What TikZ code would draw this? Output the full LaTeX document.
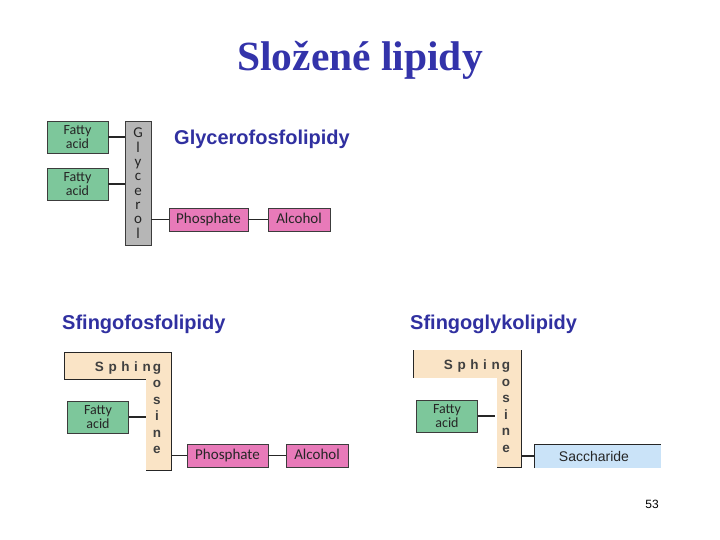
\documentclass[tikz,border=0pt]{standalone}
\usepackage{fontspec}
\setmainfont{Liberation Serif}
\newfontfamily\arialf{Liberation Sans}
\newfontfamily\boxf{Carlito}
\definecolor{titleblue}{RGB}{51,51,170}
\definecolor{lblblue}{RGB}{48,48,160}
\definecolor{fagreen}{RGB}{125,199,155}
\definecolor{phpink}{RGB}{232,122,185}
\definecolor{glgray}{RGB}{182,182,182}
\definecolor{sphbeige}{RGB}{250,228,198}
\definecolor{sacblue}{RGB}{202,227,248}
\definecolor{edge}{RGB}{60,60,60}
\tikzset{
  boxbase/.style={draw=edge, line width=0.8pt, inner sep=0pt, font=\boxf\fontsize{15}{13}\selectfont, text=black!85},
  fabox/.style={boxbase, fill=fagreen, minimum width=61pt, minimum height=32pt, align=center, font=\boxf\fontsize{14}{14.5}\selectfont},
  pinkbox/.style={boxbase, fill=phpink, minimum height=23pt, text height=10pt, text depth=3pt},
  glbox/.style={boxbase, fill=glgray, minimum width=26pt, minimum height=124pt},
  conn/.style={draw=black!85, line width=1.1pt},
  bord/.style={draw=black!85, line width=1pt},
  lbl/.style={font=\arialf\bfseries\fontsize{20}{22}\selectfont, text=lblblue, anchor=base west, inner sep=0pt},
  letter/.style={font=\boxf\fontsize{15}{15}\selectfont, text=black!85, inner sep=0pt, anchor=base},
  sphletter/.style={font=\arialf\bfseries\fontsize{13.5}{13.5}\selectfont, text=black!75, inner sep=0pt},
}
\newcommand{\spgap}{\hspace{4.6pt}}
\begin{document}
\begin{tikzpicture}[x=1pt,y=-1pt]
\useasboundingbox (0,0) rectangle (720,540);
% title
\node[font=\bfseries\fontsize{41.5}{44}\selectfont, text=titleblue] (title) at (360,60) {Složené lipidy};

% ---------- Glycerofosfolipidy ----------
\node[fabox] (fa1) at (77.5,137) {Fatty\\acid};
\node[fabox] (fa2) at (77.5,184) {Fatty\\acid};
\node[glbox] (gl) at (138,183) {};
\foreach \ch [count=\i from 0] in {G,l,y,c,e,r,o,l}
  \node[letter] (gl\i) at (138,{138+14.3*\i}) {\ch};
\node[pinkbox, minimum width=79pt] (ph1) at (208.5,219.5) {Phosphate};
\node[pinkbox, minimum width=62pt] (al1) at (299,219.5) {Alcohol};
\draw[conn] (fa1.east) -- (fa1.east -| gl.west);
\draw[conn] (fa2.east) -- (fa2.east -| gl.west);
\draw[conn] (ph1.west -| gl.east) -- (ph1.west);
\draw[conn] (ph1.east) -- (al1.west);
\node[lbl] (lg) at (174,145) {Glycerofosfolipidy};

% ---------- Sfingofosfolipidy ----------
\node[lbl] (ls) at (62,329) {Sfingofosfolipidy};
\fill[sphbeige] (64,352) rectangle (171,379);
\fill[sphbeige] (146,352) rectangle (171,470);
\draw[bord] (64,379) -- (64,352) -- (171,352) -- (171,470) -- (146,470);
\draw[bord] (64,379) -- (146,379);
\node[sphletter, anchor=base east] (s1word) at (151,371) {S\spgap p\spgap h\spgap i\spgap n};
\foreach \ch [count=\i from 0] in {g,o,s,i,n,e}
  \node[sphletter, anchor=base] (s1l\i) at (157,{371+16.5*\i}) {\ch};
\coordinate (s1bar) at (146,418);
\coordinate (s1right) at (171,456);
\node[fabox] (fa3) at (98,417) {Fatty\\acid};
\node[pinkbox, minimum width=81pt] (ph2) at (227.5,455.5) {Phosphate};
\node[pinkbox, minimum width=62pt] (al2) at (317,455.5) {Alcohol};
\draw[conn] (fa3.east) -- (fa3.east -| s1bar);
\draw[conn] (ph2.west -| s1right) -- (ph2.west);
\draw[conn] (ph2.east) -- (al2.west);

% ---------- Sfingoglykolipidy ----------
\node[lbl] (lk) at (410,329) {Sfingoglykolipidy};
\fill[sphbeige] (413,350) rectangle (521,378);
\fill[sphbeige] (497,350) rectangle (521,467);
\draw[bord] (413,350) -- (413,378);
\draw[bord] (521,350) -- (521,467) -- (497,467);
\node[sphletter, anchor=base east] (s2word) at (500,369.5) {S\spgap p\spgap h\spgap i\spgap n};
\foreach \ch [count=\i from 0] in {g,o,s,i,n,e}
  \node[sphletter, anchor=base] (s2l\i) at (506,{369.5+16.5*\i}) {\ch};
\coordinate (s2bar) at (495,415);
\coordinate (s2right) at (521,456);
\node[fabox] (fa4) at (447,416) {Fatty\\acid};
\fill[sacblue] (534,444) rectangle (661,468);
\draw[bord] (534,468) -- (534,444) -- (661,444);
\node[font=\arialf\fontsize{14}{14}\selectfont, inner sep=0pt, text=black!85] (sac) at (594,456) {Saccharide};
\coordinate (sacw) at (534,456);
\draw[conn] (fa4.east) -- (fa4.east -| s2bar);
\draw[conn] (s2right) -- (sacw);

% page number
\node[font=\arialf\fontsize{12}{12}\selectfont] (pg) at (652,504) {53};
\end{tikzpicture}
\end{document}
